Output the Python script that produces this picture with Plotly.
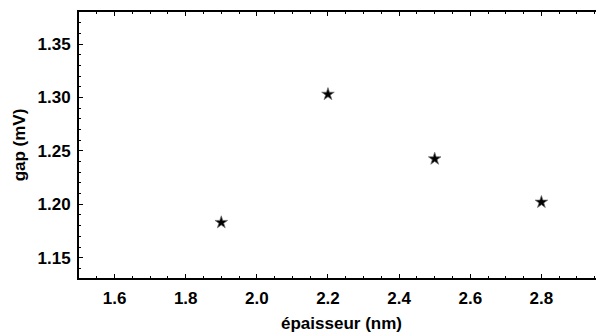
import plotly.graph_objects as go

thickness = [1.9, 2.2, 2.5, 2.8]
gap = [1.183, 1.303, 1.2425, 1.202]
x_ticks = [1.6, 1.8, 2.0, 2.2, 2.4, 2.6, 2.8]
y_ticks = [1.15, 1.20, 1.25, 1.30, 1.35]

font_family = "Liberation Sans, Arial, sans-serif"

fig = go.Figure()
fig.add_trace(go.Scatter(
    x=thickness, y=gap, mode="markers",
    marker=dict(symbol="star", size=9.5, color="black",
                line=dict(color="rgba(110,110,110,0.7)", width=1)),
    showlegend=False,
))

# page body has an 8px default margin, so the figure is sized to fit the window
fig.update_layout(
    width=596, height=325,
    margin=dict(l=71, r=0, t=4, b=55, autoexpand=False),
    paper_bgcolor="white", plot_bgcolor="white",
    font=dict(family=font_family, color="black"),
)
fig.update_xaxes(
    range=[1.5, 2.976], automargin=False,
    tickvals=x_ticks, ticktext=[f"{v:.1f}" for v in x_ticks],
    ticks="inside", ticklen=4, tickwidth=1, tickcolor="black",
    ticklabelstandoff=4,
    minor=dict(dtick=0.05, ticks="inside", ticklen=2, tickcolor="black", showgrid=False),
    showline=True, linecolor="black", linewidth=2, mirror="ticks",
    showgrid=False, zeroline=False,
    tickfont=dict(size=17, family=font_family, weight="bold"),
    title=dict(text="<b>épaisseur (nm)</b>", font=dict(size=17, family=font_family), standoff=10),
)
fig.update_yaxes(
    range=[1.131, 1.38], automargin=False,
    tickvals=y_ticks, ticktext=[f"{v:.2f}" for v in y_ticks],
    ticks="inside", ticklen=4, tickwidth=1, tickcolor="black",
    ticklabelstandoff=3,
    minor=dict(dtick=0.01, tick0=1.15, ticks="inside", ticklen=2, tickcolor="black", showgrid=False),
    showline=True, linecolor="black", linewidth=2, mirror=False,
    showgrid=False, zeroline=False,
    tickfont=dict(size=17, family=font_family, weight="bold"),
    title=dict(text="<b>gap (mV)</b>", font=dict(size=17, family=font_family), standoff=8),
)

fig.write_html("out.html")
